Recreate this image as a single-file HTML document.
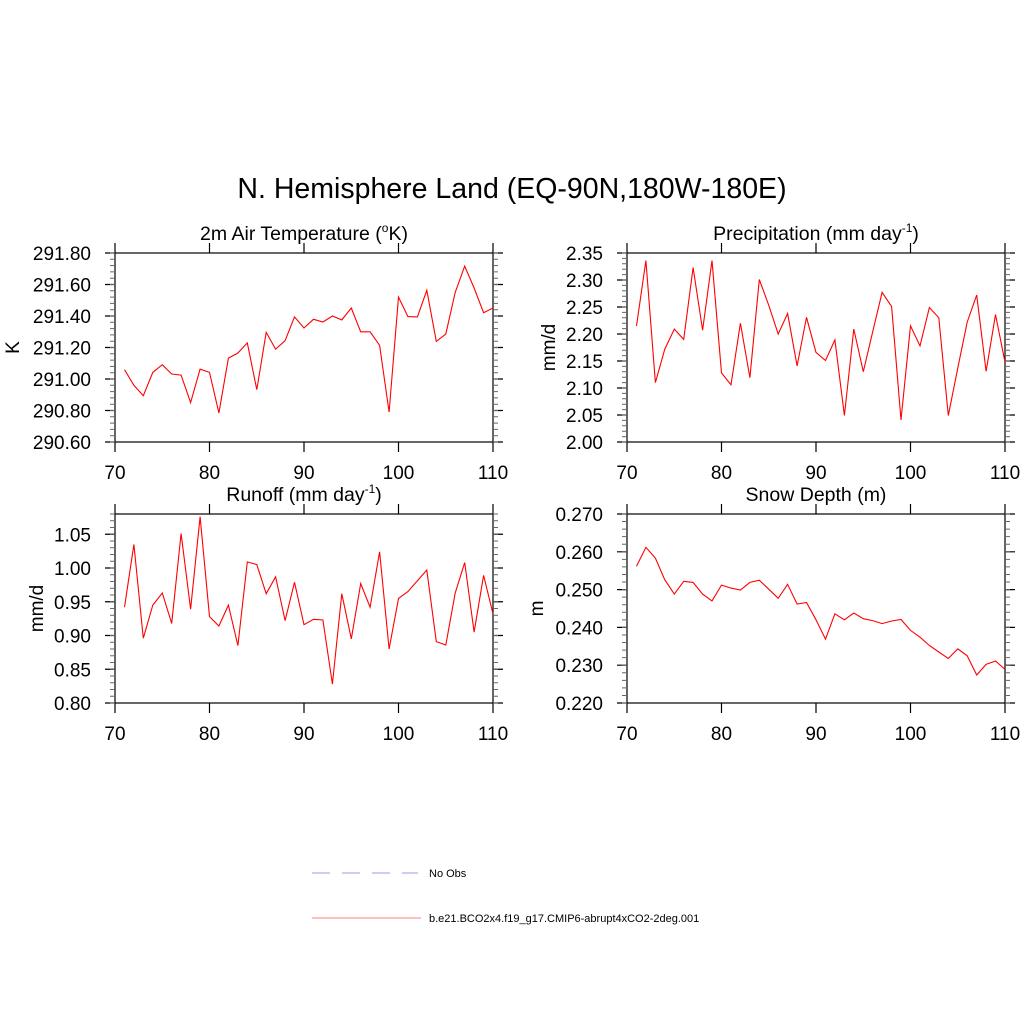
<!DOCTYPE html>
<html><head><meta charset="utf-8"><style>
html,body{margin:0;padding:0;background:#fff;}
svg{display:block;font-family:"Liberation Sans",Arial,sans-serif;}
</style></head><body>
<svg id="chart" width="1024" height="1024" viewBox="0 0 1024 1024">
<rect width="1024" height="1024" fill="#fff"/>
<text x="512" y="198" font-size="28.5" text-anchor="middle">N. Hemisphere Land (EQ-90N,180W-180E)</text>
<g>
<line x1="312" y1="873" x2="418" y2="873" stroke="#aab0ee" stroke-width="1.3" stroke-dasharray="18,12"/>
<text x="429" y="877" font-size="11">No Obs</text>
<line x1="312" y1="918" x2="421" y2="918" stroke="#ff9999" stroke-width="1.3"/>
<text x="429" y="922" font-size="11">b.e21.BCO2x4.f19_g17.CMIP6-abrupt4xCO2-2deg.001</text>
</g>
</svg>
<script>
const years = [];
for (let y = 71; y <= 110; y++) years.push(y);
const xTicks = [70, 80, 90, 100, 110];
const tempValues = [291.059,290.96,290.894,291.042,291.091,291.032,291.025,290.85,291.063,291.042,290.784,291.133,291.165,291.229,290.932,291.296,291.19,291.243,291.394,291.324,291.379,291.362,291.4,291.375,291.451,291.3,291.3,291.214,290.79,291.52,291.396,291.394,291.563,291.239,291.286,291.55,291.717,291.578,291.421,291.451];
const precValues = [2.215,2.336,2.110,2.172,2.209,2.190,2.323,2.207,2.336,2.128,2.106,2.220,2.119,2.301,2.253,2.200,2.238,2.141,2.231,2.166,2.151,2.189,2.049,2.209,2.130,2.204,2.277,2.251,2.041,2.215,2.178,2.249,2.230,2.049,2.137,2.222,2.272,2.131,2.236,2.148];
const runoffValues = [0.942,1.035,0.896,0.945,0.963,0.918,1.051,0.939,1.076,0.928,0.914,0.945,0.885,1.009,1.005,0.962,0.987,0.922,0.979,0.916,0.924,0.923,0.828,0.962,0.895,0.977,0.942,1.024,0.880,0.955,0.965,0.981,0.997,0.891,0.886,0.963,1.008,0.905,0.989,0.932];
const snowValues = [0.2562,0.2612,0.2583,0.2526,0.2488,0.2522,0.2519,0.2488,0.2470,0.2512,0.2504,0.2499,0.2519,0.2525,0.2501,0.2477,0.2514,0.2462,0.2466,0.2420,0.2369,0.2436,0.2420,0.2438,0.2423,0.2418,0.2410,0.2417,0.2421,0.2392,0.2374,0.2352,0.2335,0.2318,0.2343,0.2325,0.2274,0.2302,0.2311,0.2289];
const tempTicks = ["290.60","290.80","291.00","291.20","291.40","291.60","291.80"];
const precTicks = ["2.00","2.05","2.10","2.15","2.20","2.25","2.30","2.35"];
const runoffTicks = ["0.80","0.85","0.90","0.95","1.00","1.05"];
const snowTicks = ["0.220","0.230","0.240","0.250","0.260","0.270"];

const NS = "http://www.w3.org/2000/svg";
const svg = document.getElementById('chart');
function mk(tag, attrs, parent) {
  const e = document.createElementNS(NS, tag);
  for (const k in attrs) e.setAttribute(k, attrs[k]);
  (parent || svg).appendChild(e);
  return e;
}
function panel(name, box, ymin, ymax, yTicks, vals, title, sup, ylabel, minorStep, ylOff) {
  const g = mk('g', {});
  
  
  const [x0, y0, x1, y1] = box;
  const sx = v => x0 + (v - 70) / 40 * (x1 - x0);
  const sy = v => y1 - (v - ymin) / (ymax - ymin) * (y1 - y0);
  const frame = mk('rect', {x: x0, y: y0, width: x1 - x0, height: y1 - y0, fill: 'none', stroke: '#000', 'stroke-width': 1.2}, g);
  
  
  xTicks.forEach(t => {
    const x = sx(t);
    const tk = mk('path', {d: `M${x},${y1}v10M${x},${y0}v-10`, stroke: '#000', 'stroke-width': 1.2}, g);
    
    
    const lb = mk('text', {x: x, y: y1 + 37, 'font-size': 19, 'text-anchor': 'middle'}, g);
    lb.textContent = t;
    
    
  });
  yTicks.forEach(t => {
    const y = sy(parseFloat(t));
    const tk = mk('path', {d: `M${x0},${y}h-10M${x1},${y}h10`, stroke: '#000', 'stroke-width': 1.2}, g);
    
    
    const lb = mk('text', {x: x0 - 24, y: y + 7, 'font-size': 19, 'text-anchor': 'end'}, g);
    lb.textContent = t;
    
    
  });
  let d = '';
  const n = Math.round((ymax - ymin) / minorStep);
  for (let i = 0; i <= n; i++) {
    const y = sy(ymin + i * minorStep);
    d += `M${x0},${y}h-5M${x1},${y}h5`;
  }
  const mn = mk('path', {d: d, stroke: '#666', 'stroke-width': 1}, g);
  
  
  const tt = mk('text', {x: (x0 + x1) / 2, y: y0 - 13, 'font-size': 19.5, 'text-anchor': 'middle'}, g);
  
  
  tt.appendChild(document.createTextNode(title[0]));
  if (sup) {
    const ts = mk('tspan', {'font-size': 12, dy: -8}, tt); ts.textContent = sup;
    const t2 = mk('tspan', {dy: 8}, tt); t2.textContent = title[1];
  }
  const yl = mk('text', {x: 0, y: 0, 'font-size': 19, 'text-anchor': 'middle', transform: `translate(${x0 - ylOff},${(y0 + y1) / 2}) rotate(-90)`}, g);
  yl.textContent = ylabel;
  
  
  const pts = years.map((yr, i) => `${sx(yr).toFixed(1)},${sy(vals[i]).toFixed(1)}`).join(' ');
  const ln = mk('polyline', {points: pts, fill: 'none', stroke: '#ff0000', 'stroke-width': 1.1}, g);
  
  
}
panel('temperature', [115, 253, 493, 442], 290.6, 291.8, tempTicks, tempValues, ['2m Air Temperature (', 'K)'], 'o', 'K', 0.04, 96);
panel('precipitation', [627, 253, 1005, 442], 2.0, 2.35, precTicks, precValues, ['Precipitation (mm day', ')'], '-1', 'mm/d', 0.01, 72);
panel('runoff', [115, 514, 493, 703], 0.8, 1.08, runoffTicks, runoffValues, ['Runoff (mm day', ')'], '-1', 'mm/d', 0.01, 72);
panel('snow-depth', [627, 514, 1005, 703], 0.22, 0.27, snowTicks, snowValues, ['Snow Depth (m)', ''], '', 'm', 0.002, 84);
</script>
</body></html>
